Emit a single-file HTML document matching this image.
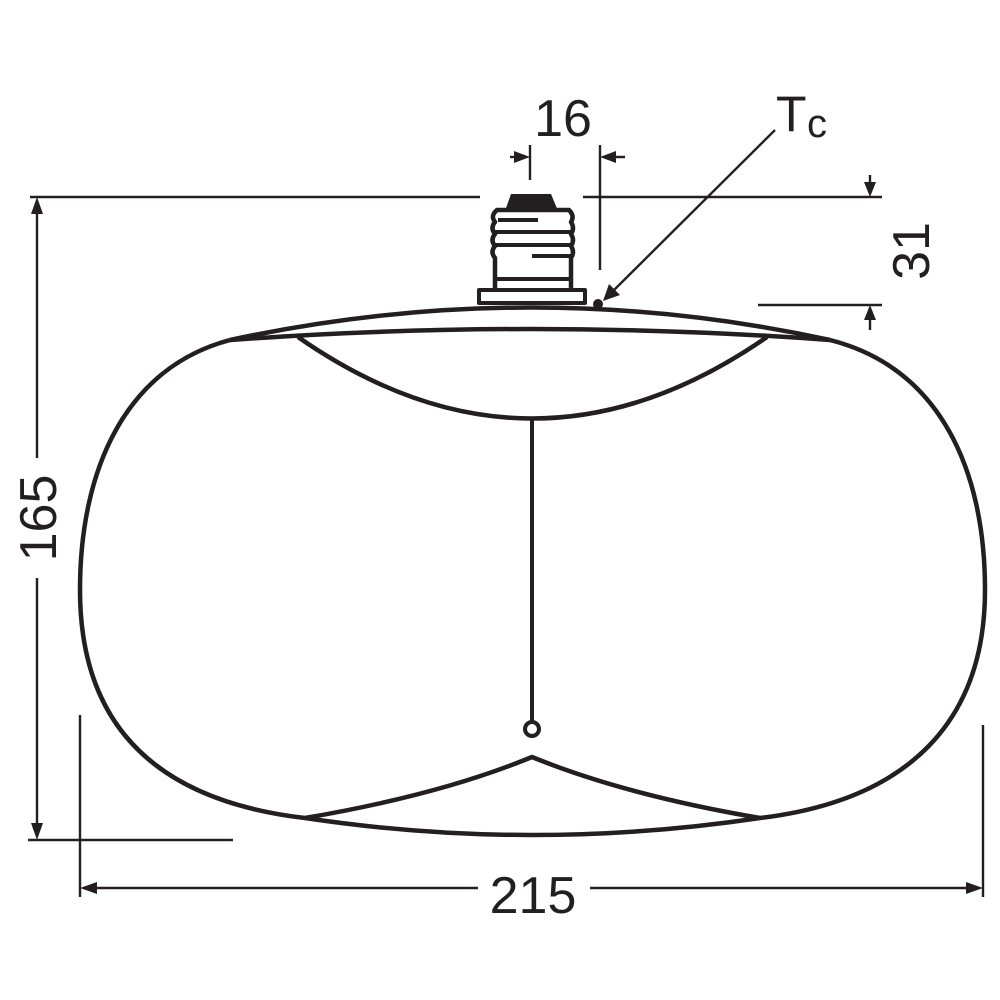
<!DOCTYPE html>
<html><head><meta charset="utf-8"><style>
html,body{margin:0;padding:0;background:#fff;}
svg{display:block;}
text{font-family:"Liberation Sans",sans-serif;fill:#231f20;}
</style></head><body>
<svg width="1000" height="1000" viewBox="0 0 1000 1000" xmlns="http://www.w3.org/2000/svg">
<g fill="none" stroke="#231f20" stroke-width="4.5" stroke-linejoin="round">
<path d="M230,340 C125,368 80,470 80,590 C80,720 150,800 305,818 Q532,852 760,818 C910,800 985,720 985,590 C985,470 940,368 830,340"/>
<path d="M230,340 Q532,275 830,340"/>
<path d="M230,340 Q532,318 830,340"/>
<path d="M298,337 Q532,500 767,337"/>
<path d="M305,818 Q440,795 532,757 Q625,795 760,818"/>
<line x1="532" y1="418" x2="532" y2="722" stroke-width="4"/>
<circle cx="532" cy="729" r="7" stroke-width="4"/>
<rect x="479" y="290" width="106" height="13" stroke-width="4"/>
<path d="M495,290 L495,258 Q490,252 495,246 Q490,240 495,234 Q490,228 495,222 Q490,216 497,210 L569,210 Q575,216 571,222 Q575,228 571,234 Q575,240 571,246 Q575,252 571,258 L571,290"/>
<line x1="495" y1="279" x2="571" y2="279" stroke-width="4"/>
<line x1="498" y1="220" x2="538" y2="220" stroke-width="4"/>
<line x1="495" y1="232" x2="571" y2="232" stroke-width="4"/>
<line x1="495" y1="245" x2="571" y2="245" stroke-width="4"/>
<line x1="532" y1="256" x2="571" y2="256" stroke-width="4"/>
</g>
<path d="M511,194 L551,194 L558,211 L505,211 Z" fill="#231f20"/>
<circle cx="598" cy="304" r="5" fill="#231f20"/>
<g stroke="#231f20" stroke-width="2.4" fill="none">
<line x1="30" y1="197" x2="480" y2="197"/>
<line x1="583" y1="197" x2="882" y2="197"/>
<line x1="758" y1="305" x2="882" y2="305"/>
<line x1="870" y1="175" x2="870" y2="190"/>
<line x1="870" y1="312" x2="870" y2="330"/>
<line x1="37" y1="205" x2="37" y2="458"/>
<line x1="37" y1="578" x2="37" y2="832"/>
<line x1="28" y1="840" x2="233" y2="840"/>
<line x1="80" y1="715" x2="80" y2="897"/>
<line x1="983" y1="725" x2="983" y2="897"/>
<line x1="88" y1="888" x2="478" y2="888"/>
<line x1="590" y1="888" x2="975" y2="888"/>
<line x1="530" y1="145" x2="530" y2="180"/>
<line x1="600" y1="145" x2="600" y2="270"/>
<line x1="510" y1="157" x2="522" y2="157"/>
<line x1="608" y1="157" x2="625" y2="157"/>
<line x1="775" y1="130" x2="612" y2="292"/>
</g>
<g fill="#231f20">
<path d="M870,197 L864,182 L876,182 Z"/>
<path d="M870,305 L864,320 L876,320 Z"/>
<path d="M37,197 L31,214 L43,214 Z"/>
<path d="M37,840 L31,823 L43,823 Z"/>
<path d="M80,888 L97,882 L97,894 Z"/>
<path d="M983,888 L966,882 L966,894 Z"/>
<path d="M530,157 L514,151 L514,163 Z"/>
<path d="M600,157 L616,151 L616,163 Z"/>
<path d="M603,301 L609,284 L620,295 Z"/>
</g>
<text x="563" y="136" font-size="52" text-anchor="middle">16</text>
<text x="776" y="131" font-size="50">T</text>
<text x="807" y="137" font-size="40">c</text>
<text x="533" y="913" font-size="52" text-anchor="middle">215</text>
<text transform="translate(929,251) rotate(-90)" font-size="52" text-anchor="middle">31</text>
<text transform="translate(56,518) rotate(-90)" font-size="52" text-anchor="middle">165</text>
</svg>
</body></html>
